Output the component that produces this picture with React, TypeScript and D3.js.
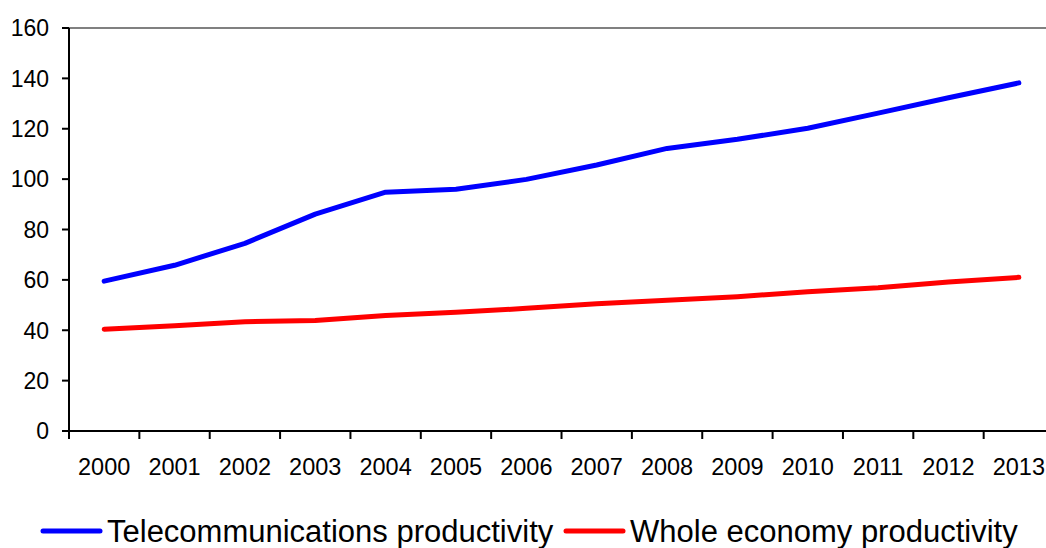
import React from "react";
import * as d3 from "d3";

const years = ["2000","2001","2002","2003","2004","2005","2006","2007","2008","2009","2010","2011","2012","2013"];
const telecom = [59.5, 65.8, 74.5, 86.1, 94.8, 96.0, 99.9, 105.6, 112.2, 115.8, 120.2, 126.2, 132.3, 138.2];
const wholeEconomy = [40.4, 41.8, 43.4, 43.9, 45.9, 47.1, 48.7, 50.5, 51.9, 53.3, 55.3, 56.9, 59.2, 61.0];
const yTicks = [0, 20, 40, 60, 80, 100, 120, 140, 160];

const W = 1046;
const H = 548;
const left = 69;
const top = 28;
const bottom = 431;
const band = 70.36;
const FONT = "'Liberation Sans', Arial, Helvetica, sans-serif";

export default function App() {
  const x = d3.scaleBand<string>().domain(years).range([left, left + band * years.length]).padding(0);
  const y = d3.scaleLinear().domain([0, 160]).range([bottom, top]);
  const cx = (yr: string) => (x(yr) as number) + x.bandwidth() / 2;

  const line = d3
    .line<number>()
    .x((_, i) => cx(years[i]))
    .y((v) => y(v));

  const series = [
    { name: "Telecommunications productivity", values: telecom, color: "#0000FF" },
    { name: "Whole economy productivity", values: wholeEconomy, color: "#FF0000" },
  ];

  const legendItems = [
    { x0: 43, name: series[0].name, color: series[0].color },
    { x0: 566, name: series[1].name, color: series[1].color },
  ];

  return (
    <svg
      width={W}
      height={H}
      style={{ position: "absolute", left: 0, top: 0, background: "#fff" }}
      fontFamily={FONT}
    >
      {/* top border of the plot area */}
      <line x1={left} x2={W} y1={y(160)} y2={y(160)} stroke="#808080" strokeWidth={2} />

      {/* y axis */}
      <line x1={left} x2={left} y1={top} y2={bottom + 8} stroke="#000" strokeWidth={2} />
      {yTicks.map((t) => (
        <g key={t}>
          <line x1={left - 7} x2={left} y1={y(t)} y2={y(t)} stroke="#000" strokeWidth={2} />
          <text x={49} y={y(t)} dy="0.36em" textAnchor="end" fontSize={23} fill="#000">
            {t}
          </text>
        </g>
      ))}

      {/* x axis */}
      <line x1={left - 7} x2={W} y1={bottom} y2={bottom} stroke="#000" strokeWidth={2} />
      {years.map((yr) => (
        <g key={yr}>
          <line
            x1={x(yr) as number}
            x2={x(yr) as number}
            y1={bottom}
            y2={bottom + 8}
            stroke="#000"
            strokeWidth={2}
          />
          <text x={cx(yr)} y={475} textAnchor="middle" fontSize={23.5} fill="#000">
            {yr}
          </text>
        </g>
      ))}

      {/* series lines */}
      {series.map((s) => (
        <path
          key={s.name}
          d={line(s.values) || ""}
          fill="none"
          stroke={s.color}
          strokeWidth={5}
          strokeLinejoin="round"
          strokeLinecap="round"
        />
      ))}

      {/* legend */}
      {legendItems.map((l) => (
        <g key={l.name}>
          <line x1={l.x0} x2={l.x0 + 57} y1={531} y2={531} stroke={l.color} strokeWidth={5} strokeLinecap="round" />
          <text x={l.x0 + 64} y={542} fontSize={31} fill="#000">
            {l.name}
          </text>
        </g>
      ))}
    </svg>
  );
}
